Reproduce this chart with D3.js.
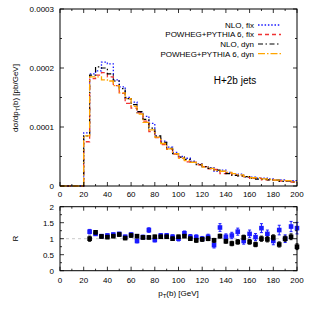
<!DOCTYPE html>
<html><head><meta charset="utf-8">
<script src="https://cdn.jsdelivr.net/npm/d3@7"></script>
<style>body{margin:0;background:#fff}svg{display:block}text{font-family:"Liberation Sans",Arial,sans-serif;fill:#000}</style>
</head><body>
<script>
// bin lower edges (5 GeV bins, 0..195)
const binEdges = d3.range(0, 200, 5);
// values in units of 1e-6 pb/GeV, bins 0-5 ... 195-200
const nloFix   = [0,0,0,0, 90,190,195,210,207,180,168,150,142,125,118,106,84,76,66,57,50,47,42,38,33,31,25,27,23,21,20,15,15,13.5,13.5,12,9.5,10.5,8.8,9];
const powFix   = [0,0,0,0, 75,182,188,192,185,170,157,140,132,124,110,92,82,70,62,54,49,41,40,36,33,29,28,21,22,19,17,16,13,13,10.5,10.5,10,8.5,8.8,6.8];
const nloDyn   = [0,0,0,0, 85,188,202,200,190,178,165,148,138,126,113,98,85,74,64,55,49,45,40,36,33,30,27,25,21,18,17,16,13,11.5,11.5,10.5,10,8,8.5,7];
const powDyn   = [0,0,0,0, 85,185,185,180,178,170,158,148,135,122,108,95,83,72,63,55,47,43,40,37,32,30,26,25,23,21,19,16,14,14,12,11,10,9.5,9,7];
const seriesNames = ["NLO, fix","POWHEG+PYTHIA 6, fix","NLO, dyn","POWHEG+PYTHIA 6, dyn"];
// ratio points
const ratioX = d3.range(25, 205, 5);
const rBlue   = [1.22,1.15,1.08,1.10,1.13,1.15,1.06,1.13,0.93,1.05,1.27,0.96,1.10,1.10,1.06,1.00,1.17,1.06,1.05,1.00,1.06,0.80,1.35,1.06,1.10,1.22,0.93,1.15,1.05,1.33,1.15,0.93,1.27,1.00,1.38,1.33];
const rBlueErr= [0.07,0.05,0.05,0.05,0.05,0.05,0.05,0.05,0.06,0.06,0.07,0.06,0.06,0.06,0.06,0.07,0.07,0.07,0.07,0.07,0.08,0.09,0.12,0.09,0.10,0.11,0.10,0.12,0.11,0.14,0.12,0.12,0.15,0.12,0.16,0.18];
const rBlack  = [1.00,1.20,1.07,1.05,1.08,1.13,1.02,1.10,1.08,1.04,1.04,1.06,1.06,1.06,1.00,1.06,1.08,1.00,0.95,0.98,1.00,0.95,1.08,0.92,0.85,0.90,1.04,0.90,0.82,1.00,0.98,1.04,0.82,1.00,1.06,0.75];
const rBlackErr=[0.08,0.05,0.05,0.05,0.05,0.05,0.05,0.05,0.05,0.05,0.05,0.05,0.05,0.05,0.05,0.05,0.05,0.05,0.06,0.06,0.06,0.06,0.06,0.06,0.07,0.07,0.07,0.07,0.07,0.08,0.08,0.08,0.08,0.08,0.09,0.09];
const xTicks = [0,20,40,60,80,100,120,140,160,180,200];
const yTopTicks = [0,0.0001,0.0002,0.0003];
const yTopLabels = ["0","0.0001","0.0002","0.0003"];
const yBotTicks = [0,0.5,1,1.5,2];
const yBotLabels = ["0","0.5","1","1.5","2"];

const W=314,H=314;
const svg=d3.select("body").append("svg").attr("width",W).attr("height",H);
const x=d3.scaleLinear([0,200],[60,297]);
const yT=d3.scaleLinear([0,0.0003],[186,9]);
const yB=d3.scaleLinear([0,2],[270.7,206.7]);

function frame(y,ymajor,ylabels,yminor,ty){
  const g=svg.append("g");
  const [y0,y1]=y.range();
  // x ticks
  const xmin=d3.range(0,201,10);
  xmin.forEach(v=>{
    const L = v%20===0?4:2;
    g.append("line").attr("x1",x(v)).attr("x2",x(v)).attr("y1",y0).attr("y2",y0-L).attr("stroke","#000").attr("stroke-width",0.8);
    g.append("line").attr("x1",x(v)).attr("x2",x(v)).attr("y1",y1).attr("y2",y1+L).attr("stroke","#000").attr("stroke-width",0.8);
  });
  yminor.forEach(v=>{
    const L = ymajor.some(m=>Math.abs(m-v)<1e-12)?4:2;
    g.append("line").attr("x1",60).attr("x2",60+L).attr("y1",y(v)).attr("y2",y(v)).attr("stroke","#000").attr("stroke-width",0.8);
    g.append("line").attr("x1",297).attr("x2",297-L).attr("y1",y(v)).attr("y2",y(v)).attr("stroke","#000").attr("stroke-width",0.8);
  });
  xTicks.forEach(v=>g.append("text").attr("x",x(v)).attr("y",y0+ty).attr("text-anchor","middle").attr("font-size",8).text(v));
  ymajor.forEach((v,i)=>g.append("text").attr("x",54).attr("y",y(v)+2.8).attr("text-anchor","end").attr("font-size",8).text(ylabels[i]));
  return g;
}

// bottom panel ref line
svg.append("line").attr("x1",x(0)).attr("x2",x(200)).attr("y1",yB(1)).attr("y2",yB(1)).attr("stroke","#bbb").attr("stroke-dasharray","3,3").attr("stroke-width",0.8);

// histograms
const styles=[
  {c:"#1a1aff",d:"1.5,1.8",w:1.3},
  {c:"#f03232",d:"4,3",w:1.3},
  {c:"#000",d:"5,2.5,1.5,2.5",w:1.2},
  {c:"#ffa500",d:"7,2,1.5,2",w:1.3}
];
const data=[nloFix,powFix,nloDyn,powDyn];
const line=d3.line().x(d=>x(d[0])).y(d=>yT(d[1]*1e-6)).curve(d3.curveStepAfter);
data.forEach((s,i)=>{
  const pts=binEdges.map((e,j)=>[e,s[j]]);
  pts.push([200,s[s.length-1]]);
  svg.append("path").attr("d",line(pts)).attr("fill","none").attr("stroke",styles[i].c).attr("stroke-width",styles[i].w).attr("stroke-dasharray",styles[i].d);
});

// ratio points
function ratio(vals,errs,col){
  const g=svg.append("g");
  ratioX.forEach((xv,i)=>{
    const cx=x(xv), cy=yB(vals[i]);
    const e1=yB(vals[i]+errs[i]), e0=yB(vals[i]-errs[i]);
    g.append("line").attr("x1",cx).attr("x2",cx).attr("y1",e1).attr("y2",e0).attr("stroke",col).attr("stroke-width",1);
    g.append("line").attr("x1",cx-1.5).attr("x2",cx+1.5).attr("y1",e1).attr("y2",e1).attr("stroke",col).attr("stroke-width",1);
    g.append("line").attr("x1",cx-1.5).attr("x2",cx+1.5).attr("y1",e0).attr("y2",e0).attr("stroke",col).attr("stroke-width",1);
    g.append("rect").attr("x",cx-2.3).attr("y",cy-2.3).attr("width",4.6).attr("height",4.6).attr("fill",col);
  });
}
ratio(rBlue,rBlueErr,"#1a1aff");
ratio(rBlack,rBlackErr,"#000");

// frames
frame(yT,yTopTicks,yTopLabels,d3.range(0,0.00030001,0.00005),10.5);
frame(yB,yBotTicks,yBotLabels,d3.range(0,2.001,0.25),12.5);
svg.append("rect").attr("x",60).attr("y",9).attr("width",237).attr("height",177).attr("fill","none").attr("stroke","#000").attr("stroke-width",1);
svg.append("rect").attr("x",60).attr("y",206.7).attr("width",237).attr("height",64).attr("fill","none").attr("stroke","#000").attr("stroke-width",1);

// legend
const legY=[25,34.5,44,53.7];
seriesNames.forEach((n,i)=>{
  svg.append("text").attr("x",254).attr("y",legY[i]+2.8).attr("text-anchor","end").attr("font-size",8).text(n);
  svg.append("line").attr("x1",258).attr("x2",281).attr("y1",legY[i]).attr("y2",legY[i]).attr("stroke",styles[i].c).attr("stroke-width",styles[i].w).attr("stroke-dasharray",styles[i].d);
});
svg.append("text").attr("x",235).attr("y",84).attr("text-anchor","middle").attr("font-size",10).text("H+2b jets");

// axis titles
const yl=svg.append("text").attr("transform","translate(18,98) rotate(-90)").attr("text-anchor","middle").attr("font-size",8);
yl.append("tspan").text("dσ/dp");
yl.append("tspan").attr("font-size",6).attr("dy",2).text("T");
yl.append("tspan").attr("dy",-2).text("(b) [pb/GeV]");
svg.append("text").attr("transform","translate(18,238.7) rotate(-90)").attr("text-anchor","middle").attr("font-size",8).text("R");
const xl=svg.append("text").attr("x",178.5).attr("y",296).attr("text-anchor","middle").attr("font-size",8);
xl.append("tspan").text("p");
xl.append("tspan").attr("font-size",6).attr("dy",2).text("T");
xl.append("tspan").attr("dy",-2).text("(b) [GeV]");
</script>
</body></html>
